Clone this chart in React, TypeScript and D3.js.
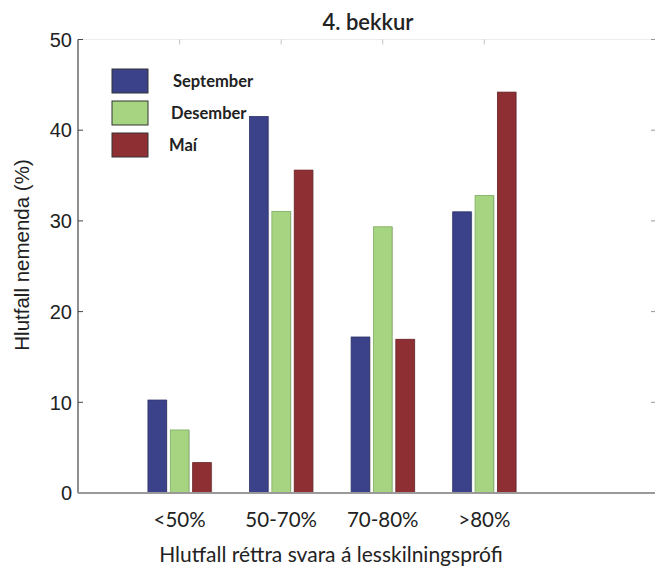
import React, { useEffect } from "react";
import * as d3 from "d3";

const categories = ["<50%", "50-70%", "70-80%", ">80%"];
const seriesNames = ["September", "Desember", "Maí"];
const september = [10.25, 41.5, 17.2, 31.0];
const desember = [6.95, 31.05, 29.35, 32.8];
const mai = [3.35, 35.6, 16.95, 44.2];
const yTicks = [0, 10, 20, 30, 40, 50];
const colors = ["#3b4289", "#a7d481", "#8e2f33"];
const strokes = ["#2c3168", "#7fae62", "#6a2326"];

const W = 655;
const H = 572;

export default function App() {
  useEffect(() => {
    document.body.style.margin = "0";
    document.documentElement.style.overflow = "hidden";
    document.body.style.overflow = "hidden";
  }, []);
  const series = [september, desember, mai];
  const x = d3.scaleLinear().domain([0, 5.68]).range([78, 655]);
  const y = d3.scaleLinear().domain([0, 50]).range([493, 39.5]);
  const offsets = [-0.22, 0, 0.22];
  const bw = 0.183;
  const sansG = "Lato, 'Open Sans', sans-serif";
  const sansH = "'Liberation Sans', Arial, sans-serif";

  return (
    <svg width={W} height={H} style={{ position: "absolute", left: 0, top: 0, background: "#fff", display: "block" }}>
      {/* top axis */}
      <line x1={x(0)} x2={W} y1={y(50)} y2={y(50)} stroke="#ececec" strokeWidth={1} />
      {categories.map((c, i) => (
        <line key={"tt" + c} x1={x(i + 1)} x2={x(i + 1)} y1={y(50)} y2={y(50) + 5} stroke="#c4c4c4" strokeWidth={1} />
      ))}
      {/* right ticks */}
      {yTicks.map((t) => (
        <line key={"rt" + t} x1={W - 4} x2={W} y1={y(t)} y2={y(t)} stroke="#999" strokeWidth={1} />
      ))}
      {/* bars */}
      {series.map((vals, s) =>
        vals.map((v, i) => {
          const x0 = x(i + 1 + offsets[s] - bw / 2);
          const x1 = x(i + 1 + offsets[s] + bw / 2);
          return (
            <g key={s + "-" + i}>
              <rect x={x0 + 1} y={y(v)} width={x1 - x0} height={y(0) - y(v)} fill="#999" opacity={0.5} />
              <rect
                x={x0}
                y={y(v)}
                width={x1 - x0}
                height={y(0) - y(v)}
                fill={colors[s]}
                stroke={strokes[s]}
                strokeWidth={0.8}
              />
            </g>
          );
        })
      )}
      {/* left axis */}
      <line x1={x(0)} x2={x(0)} y1={y(50)} y2={y(0)} stroke="#444" strokeWidth={1.2} />
      {yTicks.map((t) => (
        <g key={"yt" + t}>
          <line x1={x(0)} x2={x(0) + 5} y1={y(t)} y2={y(t)} stroke="#444" strokeWidth={1} />
          <text x={72} y={y(t)} dy="0.36em" textAnchor="end" fontFamily={sansH} fontSize={20} fill="#222">
            {t}
          </text>
        </g>
      ))}
      {/* bottom axis */}
      <line x1={x(0)} x2={W} y1={y(0)} y2={y(0)} stroke="#999" strokeWidth={2} />
      {categories.map((c, i) => (
        <text key={"xl" + c} x={x(i + 1)} y={527} textAnchor="middle" fontFamily={sansG} fontSize={20.5} fill="#222">
          {c}
        </text>
      ))}
      <text x={331} y={562} textAnchor="middle" fontFamily={sansG} fontSize={21} fill="#222">
        Hlutfall réttra svara á lesskilningsprófi
      </text>
      <text
        transform={`translate(29,${255}) rotate(-90)`}
        textAnchor="middle"
        fontFamily={sansH}
        fontSize={20.5}
        fill="#222"
      >
        Hlutfall nemenda (%)
      </text>
      <text x={368} y={30} textAnchor="middle" fontFamily={sansG} fontWeight={600} fontSize={22} fill="#222">
        4. bekkur
      </text>
      {/* legend */}
      {seriesNames.map((n, s) => (
        <g key={"lg" + n} transform={`translate(112,${69 + s * 32})`}>
          <rect x={0} y={0} width={36} height={24} fill={colors[s]} stroke="#333" strokeWidth={1} />
          <text x={[61, 59, 57][s]} y={12} dy="0.36em" fontFamily={sansG} fontWeight={700} fontSize={16.5} fill="#222">
            {n}
          </text>
        </g>
      ))}
    </svg>
  );
}
